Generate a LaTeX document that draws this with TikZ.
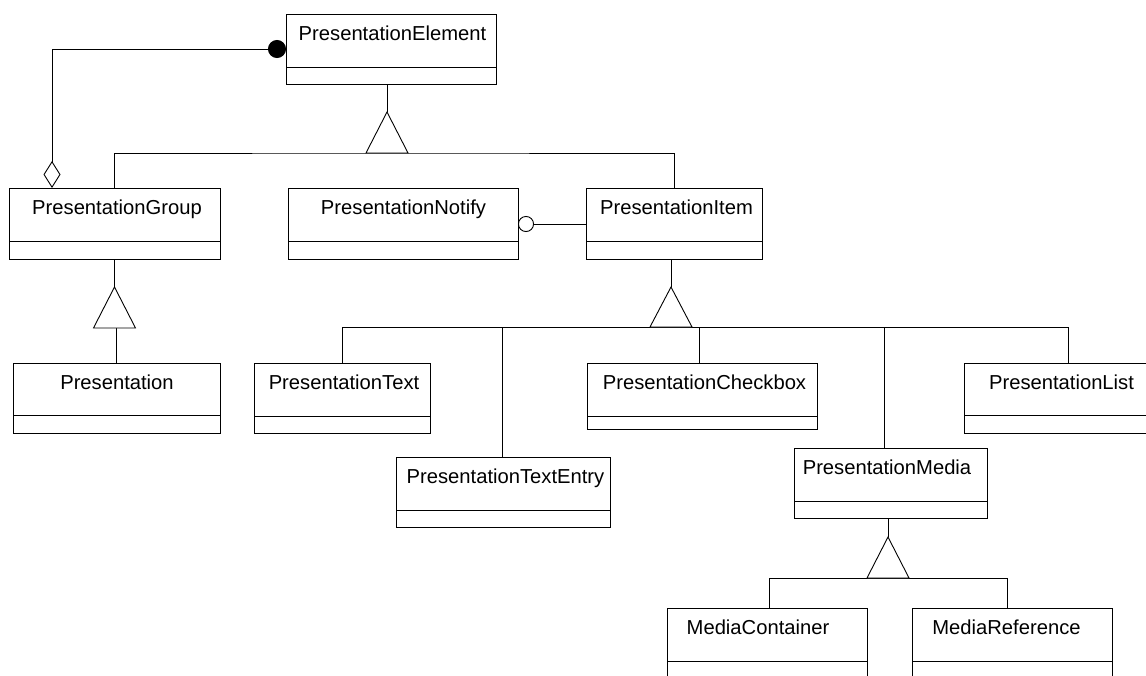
\documentclass[tikz,border=0pt]{standalone}
\usepackage{fontspec}
\setmainfont{Liberation Sans}
\usetikzlibrary{fit,arrows.meta}

% A UML class: id, left, top, right, bottom, divider y, name x, name
\newcommand\umlclass[8]{%
  \coordinate (#1-nw) at (#2,#3);
  \coordinate (#1-se) at (#4,#5);
  \node[classbox, fit=(#1-nw)(#1-se)] (#1) {};
  \draw (#2,#6) -- (#4,#6);
  \node[classname] (#1-name) at (#7,#3+26) {#8};
}
% Hollow generalization triangle standing on a base point
\newcommand\gentriangle[3]{% base point, half width, height
  \draw[gentri] ([xshift=-#2pt]#1) -- ([yshift=#3pt]#1) -- ([xshift=#2pt]#1) -- cycle;
}

\begin{document}
\begin{tikzpicture}[x=1pt,y=-1pt,line width=0.9pt,
  classbox/.style={draw, inner sep=0pt, outer sep=0pt},
  classname/.style={anchor=base, inner sep=0pt, font=\fontsize{20.2}{24}\selectfont},
  gentri/.style={draw, fill=white, line join=miter}]
\useasboundingbox (0,0) rectangle (1146,675);
\fill[white] (0,0) rectangle (1146,675);
\clip (0,0) rectangle (1146,675);

% classes
\umlclass{pe}{286}{14}{496}{84}{67}{392.5}{PresentationElement}
\umlclass{pg}{9}{188}{220}{259}{241}{117}{PresentationGroup}
\umlclass{pn}{288}{188}{518}{259}{241}{403.5}{PresentationNotify}
\umlclass{pi}{586}{188}{762}{259}{241}{676.5}{PresentationItem}
\umlclass{pr}{13}{363}{220}{433}{415}{117}{Presentation}
\umlclass{pt}{254}{363}{430}{433}{416}{344}{PresentationText}
\umlclass{pte}{396}{457}{610}{527}{510}{505.5}{PresentationTextEntry}
\umlclass{pc}{587}{363}{817}{429}{416}{704.5}{PresentationCheckbox}
\umlclass{pl}{964}{363}{1160}{433}{415}{1061.5}{PresentationList}
\umlclass{pm}{794}{448}{987}{518}{501}{887}{PresentationMedia}
\umlclass{mc}{667}{608}{867}{700}{661}{758}{MediaContainer}
\umlclass{mr}{912}{608}{1112}{700}{661}{1006.5}{MediaReference}

% composition / aggregation between element and group
\draw[{Circle[length=18pt]}-{Diamond[open,length=27pt,width=17pt]}]
  ([yshift=-35pt]pe.north west) -| ([xshift=43pt]pg.north west);

% notify association
\draw[{Circle[open,length=16pt]}-]
  ([yshift=-36pt]pn.north east) -- ([yshift=-36pt]pi.north west);

% PresentationElement generalization
\coordinate (g1) at (387,153);
\draw (pg.north) |- (g1) -| (pi.north);
\draw (pe.south -| g1) -- ([yshift=41pt]g1);
\gentriangle{g1}{21}{41}

% PresentationGroup generalization
\coordinate (g2) at (114.5,328);
\draw (pr.north) -- (pr.north |- g2);
\draw (pg.south) -- ([yshift=41pt]g2);
\gentriangle{g2}{21}{41}

% PresentationItem generalization
\coordinate (g3) at (671,327);
\draw (pt.north) |- (g3);
\draw ([xshift=-1pt]pte.north) |- (g3);
\draw ([xshift=-3pt]pc.north) |- (g3);
\draw ([xshift=-6.5pt]pm.north) |- (g3);
\draw ([xshift=6pt]pl.north) |- (g3);
\draw (pi.south -| g3) -- ([yshift=40pt]g3);
\gentriangle{g3}{21}{40}

% PresentationMedia generalization
\coordinate (g4) at (888,578);
\draw ([xshift=2pt]mc.north) |- (g4);
\draw ([xshift=-5pt]mr.north) |- (g4);
\draw (pm.south -| g4) -- ([yshift=41pt]g4);
\gentriangle{g4}{21}{41}
\end{tikzpicture}
\end{document}
